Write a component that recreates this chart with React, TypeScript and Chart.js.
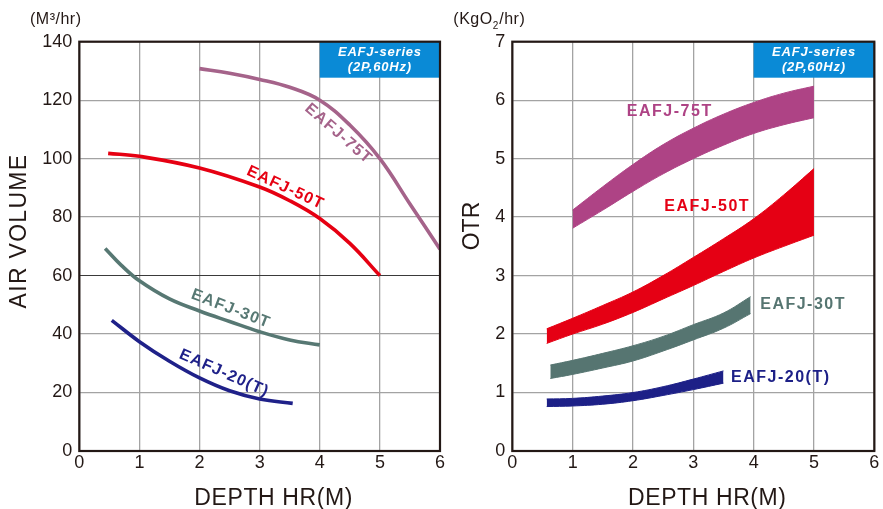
import React, { useEffect, useRef } from 'react';
import { Chart, registerables } from 'chart.js';

Chart.register(...registerables);

const FONT = '"Liberation Sans", Arial, Helvetica, sans-serif';
const INK = '#231815';
const GRID = '#a3a3a3';
const BOX_BLUE = '#0a8ad6';

// ---- tick labels ----
const depthTicks = [0, 1, 2, 3, 4, 5, 6];
const airTicks = [0, 20, 40, 60, 80, 100, 120, 140];
const otrTicks = [0, 1, 2, 3, 4, 5, 6, 7];

// ---- series names ----
const models = ['EAFJ-75T', 'EAFJ-50T', 'EAFJ-30T', 'EAFJ-20(T)'];

// ---- AIR VOLUME (m3/hr) vs depth ----
const air75X = [2, 2.5, 3, 3.5, 4, 4.5, 5, 5.5, 6];
const air75Y = [130.8, 129.2, 127.1, 124.4, 120, 111.5, 100, 84.5, 69];
const air50X = [0.48, 1, 2, 3, 3.5, 4, 4.5, 5];
const air50Y = [101.8, 100.8, 96.8, 90.3, 85.6, 79.5, 71, 60];
const air30X = [0.43, 0.7, 1, 1.5, 2, 2.5, 3, 3.5, 4];
const air30Y = [69.3, 63.5, 58.2, 52, 47.9, 44.3, 40.8, 38, 36.3];
const air20X = [0.54, 1, 1.5, 2, 2.5, 3, 3.55];
const air20Y = [44.7, 37.4, 30.7, 25, 20.6, 17.8, 16.3];

// ---- OTR (kgO2/hr) bands vs depth ----
const otr75X = [1, 1.5, 2, 2.5, 3, 3.5, 4, 4.5, 5];
const otr75Upper = [4.12, 4.52, 4.9, 5.24, 5.52, 5.76, 5.96, 6.12, 6.24];
const otr75Lower = [3.81, 4.12, 4.44, 4.74, 5.0, 5.23, 5.43, 5.58, 5.7];
const otr50X = [0.57, 1, 1.5, 2, 2.5, 3, 3.5, 4, 4.5, 5];
const otr50Upper = [2.09, 2.27, 2.49, 2.72, 3.0, 3.31, 3.63, 3.97, 4.38, 4.83];
const otr50Lower = [1.84, 2.0, 2.17, 2.37, 2.6, 2.83, 3.07, 3.3, 3.5, 3.69];
const otr30X = [0.63, 1, 1.5, 2, 2.5, 3, 3.5, 3.95];
const otr30Upper = [1.47, 1.55, 1.67, 1.8, 1.96, 2.16, 2.36, 2.64];
const otr30Lower = [1.24, 1.31, 1.42, 1.54, 1.71, 1.9, 2.1, 2.35];
const otr20X = [0.57, 1, 1.5, 2, 2.5, 3, 3.5];
const otr20Upper = [0.89, 0.9, 0.94, 1.0, 1.1, 1.23, 1.37];
const otr20Lower = [0.76, 0.77, 0.8, 0.86, 0.95, 1.05, 1.16];

// ---- styles ----
const airColors = ['#a5638a', '#e60012', '#577873', '#1f2189'];
const otrColors = ['#ae4385', '#e50014', '#567571', '#1d2087'];

const boxLines = ['EAFJ-series', '(2P,60Hz)'];

// label anchors (data coordinates) and rotations
const airLabelPos = [
  { x: 4.31, y: 108.5, angle: 41, weight: 'bold' },
  { x: 3.43, y: 90, angle: 25, weight: 'bold' },
  { x: 2.52, y: 48.6, angle: 21, weight: 'bold' },
  { x: 2.41, y: 26.6, angle: 24, weight: 'bold' },
];
const otrLabelPos = [
  { x: 2.61, y: 5.8 },
  { x: 3.23, y: 4.18 },
  { x: 4.82, y: 2.51 },
  { x: 4.45, y: 1.25 },
];

function pts(xs: number[], ys: number[]) {
  return xs.map((x, i) => ({ x, y: ys[i] }));
}

type Decor = {
  boxFrom: number;
  unit: (ctx: CanvasRenderingContext2D) => void;
  yTitle: string;
  yTitleX: number;
  yTitleY: number;
  yTitleSpacing: string;
  labels: (chart: any) => void;
};

function makeDecor(cfg: Decor) {
  return {
    id: 'decor',
    beforeDatasetsDraw(chart: any) {
      const { ctx, chartArea: a, scales } = chart;
      const bx = scales.x.getPixelForValue(cfg.boxFrom);
      ctx.save();
      ctx.fillStyle = BOX_BLUE;
      ctx.fillRect(bx, a.top, a.right - bx, 36);
      ctx.fillStyle = '#ffffff';
      ctx.font = `italic bold 13px ${FONT}`;
      (ctx as any).letterSpacing = '0.8px';
      ctx.textAlign = 'center';
      ctx.textBaseline = 'middle';
      const cx = (bx + a.right) / 2;
      ctx.fillText(boxLines[0], cx, a.top + 10.5);
      ctx.fillText(boxLines[1], cx, a.top + 25.5);
      ctx.restore();
    },
    afterDatasetsDraw(chart: any) {
      const { ctx, chartArea: a } = chart;
      cfg.labels(chart);
      ctx.save();
      ctx.strokeStyle = INK;
      ctx.lineWidth = 2.2;
      ctx.strokeRect(a.left, a.top, a.right - a.left, a.bottom - a.top);
      ctx.restore();
    },
    afterDraw(chart: any) {
      const { ctx, chartArea: a } = chart;
      ctx.save();
      ctx.fillStyle = INK;
      ctx.font = `23px ${FONT}`;
      (ctx as any).letterSpacing = '0.6px';
      ctx.textAlign = 'center';
      ctx.textBaseline = 'alphabetic';
      ctx.fillText('DEPTH HR(M)', (a.left + a.right) / 2 + 14, 505);
      ctx.save();
      ctx.translate(cfg.yTitleX, cfg.yTitleY);
      ctx.rotate(-Math.PI / 2);
      (ctx as any).letterSpacing = cfg.yTitleSpacing;
      ctx.textBaseline = 'middle';
      ctx.fillText(cfg.yTitle, 0, 0);
      ctx.restore();
      (ctx as any).letterSpacing = '0.5px';
      cfg.unit(ctx);
      ctx.restore();
    },
  };
}

function drawRotated(ctx: CanvasRenderingContext2D, text: string, x: number, y: number, angle: number, font: string, color: string, spacing: string) {
  ctx.save();
  ctx.translate(x, y);
  ctx.rotate((angle * Math.PI) / 180);
  ctx.font = font;
  (ctx as any).letterSpacing = spacing;
  ctx.fillStyle = color;
  ctx.textAlign = 'center';
  ctx.textBaseline = 'middle';
  ctx.fillText(text, 0, 0);
  ctx.restore();
}

function baseOptions(yTicks: number[], yWidth: number, padRight: number, darkValue?: number) {
  return {
    responsive: false,
    maintainAspectRatio: false,
    animation: false as const,
    events: [] as any[],
    layout: { padding: { left: 0, right: padRight, top: 41.7, bottom: 0 } },
    plugins: { legend: { display: false }, tooltip: { enabled: false }, title: { display: false } },
    scales: {
      x: {
        type: 'linear' as const,
        min: depthTicks[0],
        max: depthTicks[depthTicks.length - 1],
        afterBuildTicks: (s: any) => {
          s.ticks = depthTicks.map((v) => ({ value: v }));
        },
        afterFit: (s: any) => {
          s.height = 58;
        },
        grid: { color: GRID, lineWidth: 1.3, drawTicks: false },
        border: { display: false },
        ticks: { color: INK, padding: 1, font: { family: FONT, size: 18 } },
      },
      y: {
        type: 'linear' as const,
        min: yTicks[0],
        max: yTicks[yTicks.length - 1],
        afterBuildTicks: (s: any) => {
          s.ticks = yTicks.map((v) => ({ value: v }));
        },
        afterFit: (s: any) => {
          s.width = yWidth;
        },
        grid: {
          color: (c: any) => (darkValue !== undefined && c.tick && c.tick.value === darkValue ? '#3a3a3a' : GRID),
          lineWidth: (c: any) => (darkValue !== undefined && c.tick && c.tick.value === darkValue ? 1.1 : 1.3),
          drawTicks: false,
        },
        border: { display: false },
        ticks: { color: INK, padding: 7, font: { family: FONT, size: 18 } },
      },
    },
  };
}

function lineSet(label: string, data: any[], color: string) {
  return {
    label,
    data,
    borderColor: color,
    backgroundColor: color,
    borderWidth: 3.6,
    pointRadius: 0,
    fill: false,
    tension: 0.4,
    borderCapStyle: 'butt' as const,
  };
}

function bandSets(label: string, xs: number[], lower: number[], upper: number[], color: string) {
  return [
    {
      label: label + ' low',
      data: pts(xs, lower),
      borderColor: color,
      backgroundColor: color,
      borderWidth: 1,
      pointRadius: 0,
      fill: false,
      tension: 0.4,
    },
    {
      label,
      data: pts(xs, upper),
      borderColor: color,
      backgroundColor: color,
      borderWidth: 1,
      pointRadius: 0,
      fill: '-1',
      tension: 0.4,
    },
  ];
}

function AirChart() {
  const ref = useRef<HTMLCanvasElement>(null);
  useEffect(() => {
    if (!ref.current) return;
    const decor = makeDecor({
      boxFrom: 4,
      yTitle: 'AIR VOLUME',
      yTitleX: 20,
      yTitleY: 231,
      yTitleSpacing: '1.3px',
      unit: (ctx) => {
        ctx.font = `16px ${FONT}`;
        ctx.textAlign = 'left';
        ctx.textBaseline = 'middle';
        ctx.fillText('(M³/hr)', 30, 20);
      },
      labels: (chart) => {
        const { ctx, scales } = chart;
        airLabelPos.forEach((p, i) => {
          drawRotated(
            ctx,
            models[i],
            scales.x.getPixelForValue(p.x),
            scales.y.getPixelForValue(p.y),
            p.angle,
            `${p.weight} 16px ${FONT}`,
            airColors[i],
            '1.2px'
          );
        });
      },
    });
    const chart = new Chart(ref.current, {
      type: 'line',
      data: {
        datasets: [
          lineSet(models[0], pts(air75X, air75Y), airColors[0]),
          lineSet(models[1], pts(air50X, air50Y), airColors[1]),
          lineSet(models[2], pts(air30X, air30Y), airColors[2]),
          lineSet(models[3], pts(air20X, air20Y), airColors[3]),
        ],
      },
      options: baseOptions(airTicks, 79.3, 10, 60) as any,
      plugins: [decor as any],
    });
    return () => chart.destroy();
  }, []);
  return <canvas ref={ref} width={450} height={509} style={{ position: 'absolute', left: 0, top: 0, width: 450, height: 509 }} />;
}

function OtrChart() {
  const ref = useRef<HTMLCanvasElement>(null);
  useEffect(() => {
    if (!ref.current) return;
    const decor = makeDecor({
      boxFrom: 4,
      yTitle: 'OTR',
      yTitleX: 27.3,
      yTitleY: 226,
      yTitleSpacing: '0px',
      unit: (ctx) => {
        ctx.font = `16px ${FONT}`;
        ctx.textAlign = 'left';
        ctx.textBaseline = 'middle';
        let x = 8.3;
        const a = '(KgO';
        ctx.fillText(a, x, 20);
        x += ctx.measureText(a).width;
        ctx.font = `10px ${FONT}`;
        ctx.fillText('2', x, 26);
        x += ctx.measureText('2').width + 0.5;
        ctx.font = `16px ${FONT}`;
        ctx.fillText('/hr)', x, 20);
      },
      labels: (chart) => {
        const { ctx, scales } = chart;
        otrLabelPos.forEach((p, i) => {
          drawRotated(
            ctx,
            models[i],
            scales.x.getPixelForValue(p.x),
            scales.y.getPixelForValue(p.y),
            0,
            `bold 16px ${FONT}`,
            otrColors[i],
            '1.5px'
          );
        });
      },
    });
    const chart = new Chart(ref.current, {
      type: 'line',
      data: {
        datasets: [
          ...bandSets(models[0], otr75X, otr75Lower, otr75Upper, otrColors[0]),
          ...bandSets(models[1], otr50X, otr50Lower, otr50Upper, otrColors[1]),
          ...bandSets(models[2], otr30X, otr30Lower, otr30Upper, otrColors[2]),
          ...bandSets(models[3], otr20X, otr20Lower, otr20Upper, otrColors[3]),
        ],
      },
      options: baseOptions(otrTicks, 67.3, 8.7) as any,
      plugins: [decor as any],
    });
    return () => chart.destroy();
  }, []);
  return <canvas ref={ref} width={438} height={509} style={{ position: 'absolute', left: 445, top: 0, width: 438, height: 509 }} />;
}

export default function App() {
  return (
    <div style={{ position: 'fixed', left: 0, top: 0, width: 883, height: 509, background: '#ffffff', overflow: 'hidden' }}>
      <AirChart />
      <OtrChart />
    </div>
  );
}
